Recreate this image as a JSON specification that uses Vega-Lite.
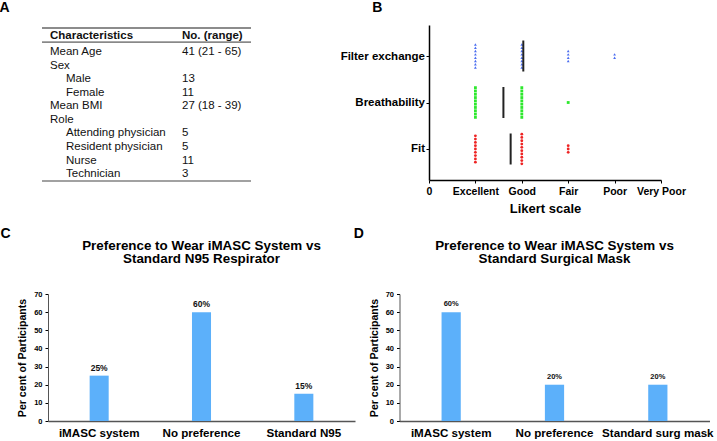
{
 "$schema": "https://vega.github.io/schema/vega-lite/v6.json",
 "padding": {"left": -1, "top": 1, "right": 0, "bottom": 0},
 "config": {
  "font": "Liberation Sans",
  "view": {"stroke": null},
  "axis": {"domainColor": "#000", "tickColor": "#000", "labelColor": "#000", "titleColor": "#000", "grid": false},
  "title": {"color": "#000"}
 },
 "datasets": {
  "table": [
   {"row": 0, "indent": 0, "item": "Characteristics", "value": "No. (range)"},
   {"row": 1, "indent": 0, "item": "Mean Age", "value": "41 (21 - 65)"},
   {"row": 2, "indent": 0, "item": "Sex", "value": ""},
   {"row": 3, "indent": 1, "item": "Male", "value": "13"},
   {"row": 4, "indent": 1, "item": "Female", "value": "11"},
   {"row": 5, "indent": 0, "item": "Mean BMI", "value": "27 (18 - 39)"},
   {"row": 6, "indent": 0, "item": "Role", "value": ""},
   {"row": 7, "indent": 1, "item": "Attending physician", "value": "5"},
   {"row": 8, "indent": 1, "item": "Resident physician", "value": "5"},
   {"row": 9, "indent": 1, "item": "Nurse", "value": "11"},
   {"row": 10, "indent": 1, "item": "Technician", "value": "3"}
  ],
  "ratings": [
   {"attribute": "Filter exchange", "rating": 1, "slot": -3.5},
   {"attribute": "Filter exchange", "rating": 1, "slot": -2.5},
   {"attribute": "Filter exchange", "rating": 1, "slot": -1.5},
   {"attribute": "Filter exchange", "rating": 1, "slot": -0.5},
   {"attribute": "Filter exchange", "rating": 1, "slot": 0.5},
   {"attribute": "Filter exchange", "rating": 1, "slot": 1.5},
   {"attribute": "Filter exchange", "rating": 1, "slot": 2.5},
   {"attribute": "Filter exchange", "rating": 1, "slot": 3.5},
   {"attribute": "Filter exchange", "rating": 2, "slot": -3.5},
   {"attribute": "Filter exchange", "rating": 2, "slot": -2.5},
   {"attribute": "Filter exchange", "rating": 2, "slot": -1.5},
   {"attribute": "Filter exchange", "rating": 2, "slot": -0.5},
   {"attribute": "Filter exchange", "rating": 2, "slot": 0.5},
   {"attribute": "Filter exchange", "rating": 2, "slot": 1.5},
   {"attribute": "Filter exchange", "rating": 2, "slot": 2.5},
   {"attribute": "Filter exchange", "rating": 2, "slot": 3.5},
   {"attribute": "Filter exchange", "rating": 3, "slot": -1.5},
   {"attribute": "Filter exchange", "rating": 3, "slot": -0.5},
   {"attribute": "Filter exchange", "rating": 3, "slot": 0.5},
   {"attribute": "Filter exchange", "rating": 3, "slot": 1.5},
   {"attribute": "Filter exchange", "rating": 4, "slot": -0.5},
   {"attribute": "Filter exchange", "rating": 4, "slot": 0.5},
   {"attribute": "Breathability", "rating": 1, "slot": -4.5},
   {"attribute": "Breathability", "rating": 1, "slot": -3.5},
   {"attribute": "Breathability", "rating": 1, "slot": -2.5},
   {"attribute": "Breathability", "rating": 1, "slot": -1.5},
   {"attribute": "Breathability", "rating": 1, "slot": -0.5},
   {"attribute": "Breathability", "rating": 1, "slot": 0.5},
   {"attribute": "Breathability", "rating": 1, "slot": 1.5},
   {"attribute": "Breathability", "rating": 1, "slot": 2.5},
   {"attribute": "Breathability", "rating": 1, "slot": 3.5},
   {"attribute": "Breathability", "rating": 1, "slot": 4.5},
   {"attribute": "Breathability", "rating": 2, "slot": -4.5},
   {"attribute": "Breathability", "rating": 2, "slot": -3.5},
   {"attribute": "Breathability", "rating": 2, "slot": -2.5},
   {"attribute": "Breathability", "rating": 2, "slot": -1.5},
   {"attribute": "Breathability", "rating": 2, "slot": -0.5},
   {"attribute": "Breathability", "rating": 2, "slot": 0.5},
   {"attribute": "Breathability", "rating": 2, "slot": 1.5},
   {"attribute": "Breathability", "rating": 2, "slot": 2.5},
   {"attribute": "Breathability", "rating": 2, "slot": 3.5},
   {"attribute": "Breathability", "rating": 2, "slot": 4.5},
   {"attribute": "Breathability", "rating": 3, "slot": 0},
   {"attribute": "Fit", "rating": 1, "slot": -4},
   {"attribute": "Fit", "rating": 1, "slot": -3},
   {"attribute": "Fit", "rating": 1, "slot": -2},
   {"attribute": "Fit", "rating": 1, "slot": -1},
   {"attribute": "Fit", "rating": 1, "slot": 0},
   {"attribute": "Fit", "rating": 1, "slot": 1},
   {"attribute": "Fit", "rating": 1, "slot": 2},
   {"attribute": "Fit", "rating": 1, "slot": 3},
   {"attribute": "Fit", "rating": 1, "slot": 4},
   {"attribute": "Fit", "rating": 2, "slot": -4.5},
   {"attribute": "Fit", "rating": 2, "slot": -3.5},
   {"attribute": "Fit", "rating": 2, "slot": -2.5},
   {"attribute": "Fit", "rating": 2, "slot": -1.5},
   {"attribute": "Fit", "rating": 2, "slot": -0.5},
   {"attribute": "Fit", "rating": 2, "slot": 0.5},
   {"attribute": "Fit", "rating": 2, "slot": 1.5},
   {"attribute": "Fit", "rating": 2, "slot": 2.5},
   {"attribute": "Fit", "rating": 2, "slot": 3.5},
   {"attribute": "Fit", "rating": 2, "slot": 4.5},
   {"attribute": "Fit", "rating": 3, "slot": -1},
   {"attribute": "Fit", "rating": 3, "slot": 0},
   {"attribute": "Fit", "rating": 3, "slot": 1}
  ],
  "n95": [
   {"choice": "iMASC system", "pct": 25, "label": "25%"},
   {"choice": "No preference", "pct": 60, "label": "60%"},
   {"choice": "Standard N95", "pct": 15, "label": "15%"}
  ],
  "surg": [
   {"choice": "iMASC system", "pct": 60, "label": "60%"},
   {"choice": "No preference", "pct": 20, "label": "20%"},
   {"choice": "Standard surg mask", "pct": 20, "label": "20%"}
  ]
 },
 "spacing": 10,
 "vconcat": [
  {
   "spacing": 88,
   "hconcat": [
    {
     "width": 203,
     "height": 156,
     "title": {"text": "A", "anchor": "start", "dx": -41.7, "fontSize": 14, "fontWeight": "bold", "offset": 10},
     "layer": [
      {
       "data": {"values": [{}]},
       "mark": {"type": "rule", "color": "#666", "strokeWidth": 1.5},
       "encoding": {
        "x": {"datum": -0.5, "type": "quantitative", "scale": {"domain": [-0.125, 12.5625], "nice": false, "zero": false}, "axis": null},
        "x2": {"datum": 12.5625},
        "y": {"datum": -0.77, "type": "quantitative", "scale": {"domain": [-0.99, 10.51], "nice": false, "zero": false, "reverse": true}, "axis": null}
       }
      },
      {
       "data": {"values": [{}]},
       "mark": {"type": "rule", "color": "#333", "strokeWidth": 1},
       "encoding": {
        "x": {"datum": -0.5, "type": "quantitative"},
        "x2": {"datum": 12.5625},
        "y": {"datum": 0.27, "type": "quantitative"}
       }
      },
      {
       "data": {"values": [{}]},
       "mark": {"type": "rule", "color": "#444", "strokeWidth": 1.2},
       "encoding": {
        "x": {"datum": -0.5, "type": "quantitative"},
        "x2": {"datum": 12.5625},
        "y": {"datum": 10.51, "type": "quantitative"}
       }
      },
      {
       "data": {"name": "table"},
       "transform": [{"filter": "datum.row > 0"}],
       "mark": {"type": "text", "align": "left", "baseline": "middle", "fontSize": 11.5, "color": "#111"},
       "encoding": {
        "x": {"field": "indent", "type": "quantitative"},
        "y": {"field": "row", "type": "quantitative"},
        "text": {"field": "item"}
       }
      },
      {
       "data": {"name": "table"},
       "transform": [{"filter": "datum.row > 0"}],
       "mark": {"type": "text", "align": "left", "baseline": "middle", "fontSize": 11.5, "color": "#111"},
       "encoding": {
        "x": {"datum": 8.25, "type": "quantitative"},
        "y": {"field": "row", "type": "quantitative"},
        "text": {"field": "value"}
       }
      },
      {
       "data": {"name": "table"},
       "transform": [{"filter": "datum.row == 0"}],
       "mark": {"type": "text", "align": "left", "baseline": "middle", "fontSize": 11.5, "fontWeight": "bold", "dy": -2, "color": "#111"},
       "encoding": {
        "x": {"field": "indent", "type": "quantitative"},
        "y": {"field": "row", "type": "quantitative"},
        "text": {"field": "item"}
       }
      },
      {
       "data": {"name": "table"},
       "transform": [{"filter": "datum.row == 0"}],
       "mark": {"type": "text", "align": "left", "baseline": "middle", "fontSize": 11.5, "fontWeight": "bold", "dy": -2, "color": "#111"},
       "encoding": {
        "x": {"datum": 8.25, "type": "quantitative"},
        "y": {"field": "row", "type": "quantitative"},
        "text": {"field": "value"}
       }
      }
     ]
    },
    {
     "width": 232,
     "height": 155,
     "title": {"text": "B", "anchor": "start", "dx": 32, "fontSize": 14, "fontWeight": "bold", "offset": 10},
     "data": {"name": "ratings"},
     "layer": [
      {
       "mark": {"type": "point", "filled": true, "size": 8, "opacity": 1},
       "encoding": {
        "x": {"field": "rating", "type": "quantitative", "scale": {"domain": [0, 5], "nice": false},
         "axis": {"values": [0, 1, 2, 3, 4, 5], "labelExpr": "['0','Excellent','Good','Fair','Poor','Very Poor'][datum.value]", "title": "Likert scale", "titleFontSize": 13, "titleFontWeight": "bold", "labelFontSize": 10.5, "labelFontWeight": "bold", "tickSize": 3, "labelPadding": 3, "titlePadding": 6, "domainWidth": 1.5, "labelFlush": false}},
        "y": {"field": "attribute", "type": "nominal", "sort": ["Filter exchange", "Breathability", "Fit"], "scale": {"type": "point", "padding": 0.667},
         "axis": {"title": null, "labelFontSize": 11.5, "labelFontWeight": "bold", "tickSize": 3, "labelPadding": 1.5, "domainWidth": 1.5}},
        "yOffset": {"field": "slot", "type": "quantitative", "scale": {"domain": [-6, 6], "range": [-19.8, 19.8]}},
        "color": {"field": "attribute", "type": "nominal", "scale": {"domain": ["Filter exchange", "Breathability", "Fit"], "range": ["#4a6cf0", "#2ee82e", "#ee2424"]}, "legend": null},
        "shape": {"field": "attribute", "type": "nominal", "scale": {"domain": ["Filter exchange", "Breathability", "Fit"], "range": ["triangle-up", "square", "circle"]}, "legend": null}
       }
      },
      {
       "mark": {"type": "tick", "color": "#222", "thickness": 2, "size": 31, "xOffset": 1.5},
       "encoding": {
        "x": {"aggregate": "mean", "field": "rating", "type": "quantitative"},
        "y": {"field": "attribute", "type": "nominal", "sort": ["Filter exchange", "Breathability", "Fit"]}
       }
      }
     ]
    }
   ]
  },
  {
   "spacing": -1.5,
   "hconcat": [
    {
     "title": {"text": "C", "anchor": "start", "dx": -17.2, "fontSize": 14, "fontWeight": "bold", "offset": -1.3},
     "vconcat": [
      {
       "title": {"text": ["Preference to Wear iMASC System vs", "Standard N95 Respirator"], "fontSize": 13.4, "fontWeight": "bold", "anchor": "middle", "offset": 24.7, "lineHeight": 12.6},
       "width": 307,
       "height": 127,
       "data": {"name": "n95"},
       "encoding": {
        "x": {"field": "choice", "type": "nominal", "sort": null, "scale": {"paddingInner": 0.814, "paddingOuter": 0.407},
         "axis": {"title": null, "labelAngle": 0, "labelFontSize": 11.6, "labelFontWeight": "bold", "ticks": false, "labelPadding": 6, "domainWidth": 1.5, "domainColor": "#555"}},
        "y": {"field": "pct", "type": "quantitative", "scale": {"domain": [0, 70], "nice": false},
         "axis": {"values": [0, 10, 20, 30, 40, 50, 60, 70], "title": "Per cent of Participants", "titleFontSize": 10.6, "titleFontWeight": "bold", "labelFontSize": 7.5, "labelFontWeight": "bold", "tickSize": 3, "labelPadding": 3, "titlePadding": 6, "domainColor": "#555"}}
       },
       "layer": [
        {"mark": {"type": "bar", "color": "#5cb0fa"}},
        {"mark": {"type": "text", "dy": -8, "fontSize": 8.5, "fontWeight": "bold", "baseline": "middle", "color": "#111"}, "encoding": {"text": {"field": "label"}}}
       ]
      }
     ]
    },
    {
     "title": {"text": "D", "anchor": "start", "dx": -15.5, "fontSize": 14, "fontWeight": "bold", "offset": -1.3},
     "vconcat": [
      {
       "title": {"text": ["Preference to Wear iMASC System vs", "Standard Surgical Mask"], "fontSize": 13.4, "fontWeight": "bold", "anchor": "middle", "offset": 24.7, "lineHeight": 12.6},
       "width": 310,
       "height": 127,
       "data": {"name": "surg"},
       "encoding": {
        "x": {"field": "choice", "type": "nominal", "sort": null, "scale": {"paddingInner": 0.814, "paddingOuter": 0.407},
         "axis": {"title": null, "labelAngle": 0, "labelFontSize": 11.6, "labelFontWeight": "bold", "ticks": false, "labelPadding": 6, "domainWidth": 1.5, "domainColor": "#555"}},
        "y": {"field": "pct", "type": "quantitative", "scale": {"domain": [0, 70], "nice": false},
         "axis": {"values": [0, 10, 20, 30, 40, 50, 60, 70], "title": "Per cent of Participants", "titleFontSize": 10.6, "titleFontWeight": "bold", "labelFontSize": 7.5, "labelFontWeight": "bold", "tickSize": 3, "labelPadding": 3, "titlePadding": 6, "domainColor": "#555"}}
       },
       "layer": [
        {"mark": {"type": "bar", "color": "#5cb0fa"}},
        {"mark": {"type": "text", "dy": -8, "fontSize": 7.5, "fontWeight": "bold", "baseline": "middle", "color": "#111"}, "encoding": {"text": {"field": "label"}}}
       ]
      }
     ]
    }
   ]
  }
 ]
}
